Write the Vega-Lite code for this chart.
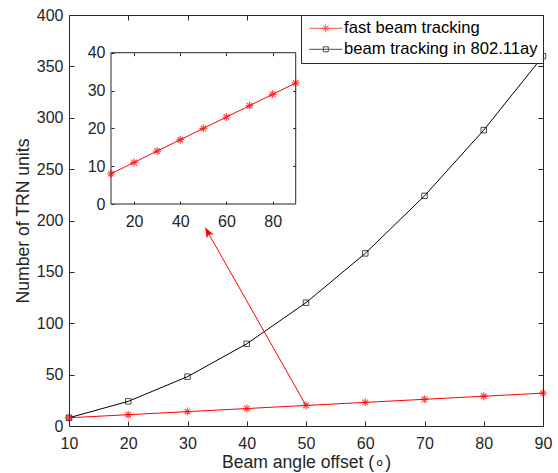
{
  "$schema": "https://vega.github.io/schema/vega-lite/v6.json",
  "width": 474,
  "height": 411,
  "autosize": {"type": "none"},
  "padding": {"left": 69, "top": 15, "right": 15, "bottom": 47},
  "config": {
    "font": "Liberation Sans",
    "view": {"stroke": null},
    "axis": {"labelColor": "#262626", "titleColor": "#262626", "tickColor": "#262626", "domainColor": "#262626", "labelFontSize": 16, "titleFontSize": 17.6, "titleFontWeight": "normal", "grid": false, "labelFlush": false, "labelOverlap": false},
    "legend": {"title": null, "orient": "top-right", "offset": 0, "padding": 5, "rowPadding": 4,
               "strokeColor": "#262626", "fillColor": "#ffffff", "cornerRadius": 0,
               "labelFontSize": 16.6, "labelColor": "#000000", "labelOffset": 10, "labelLimit": 400,
               "symbolSize": 100, "symbolOffset": 11.5, "symbolStrokeWidth": 1, "symbolFillColor": "transparent"}
  },
  "datasets": {
    "fast": [
      {"angle": 10, "trn": 8, "series": "fast beam tracking"},
      {"angle": 20, "trn": 11, "series": "fast beam tracking"},
      {"angle": 30, "trn": 14, "series": "fast beam tracking"},
      {"angle": 40, "trn": 17, "series": "fast beam tracking"},
      {"angle": 50, "trn": 20, "series": "fast beam tracking"},
      {"angle": 60, "trn": 23, "series": "fast beam tracking"},
      {"angle": 70, "trn": 26, "series": "fast beam tracking"},
      {"angle": 80, "trn": 29, "series": "fast beam tracking"},
      {"angle": 90, "trn": 32, "series": "fast beam tracking"}
    ],
    "ay": [
      {"angle": 10, "trn": 8, "series": "beam tracking in 802.11ay"},
      {"angle": 20, "trn": 24, "series": "beam tracking in 802.11ay"},
      {"angle": 30, "trn": 48, "series": "beam tracking in 802.11ay"},
      {"angle": 40, "trn": 80, "series": "beam tracking in 802.11ay"},
      {"angle": 50, "trn": 120, "series": "beam tracking in 802.11ay"},
      {"angle": 60, "trn": 168, "series": "beam tracking in 802.11ay"},
      {"angle": 70, "trn": 224, "series": "beam tracking in 802.11ay"},
      {"angle": 80, "trn": 288, "series": "beam tracking in 802.11ay"},
      {"angle": 90, "trn": 360, "series": "beam tracking in 802.11ay"}
    ],
    "legend": [
      {"angle": 10, "trn": 8, "series": "fast beam tracking"},
      {"angle": 10, "trn": 8, "series": "beam tracking in 802.11ay"}
    ],
    "arrow": [{"x": 50, "y": 20, "x2": 33, "y2": 193}],
    "frame": [{"x": 10, "x2": 90, "y": 0, "y2": 40}]
  },
  "resolve": {"scale": {"x": "independent", "y": "independent"}, "axis": {"x": "independent", "y": "independent"}},
  "layer": [
    {
      "data": {"name": "ay"},
      "mark": {"type": "line", "color": "#000000", "strokeWidth": 1},
      "encoding": {
        "x": {"field": "angle", "type": "quantitative", "scale": {"domain": [10, 90], "nice": false, "zero": false},
              "axis": {"orient": "bottom", "values": [10, 20, 30, 40, 50, 60, 70, 80, 90], "tickSize": -5, "labelPadding": 14, "title": "Beam angle offset (∘)", "titlePadding": 2}},
        "y": {"field": "trn", "type": "quantitative", "scale": {"domain": [0, 400], "nice": false, "zero": false},
              "axis": {"orient": "left", "values": [0, 50, 100, 150, 200, 250, 300, 350, 400], "tickSize": -5, "labelPadding": 11, "title": "Number of TRN units", "titlePadding": 4}}
      }
    },
    {
      "data": {"name": "ay"},
      "mark": {"type": "point", "shape": "square", "filled": false, "size": 30, "strokeWidth": 1, "color": "#000000"},
      "encoding": {
        "x": {"field": "angle", "type": "quantitative", "scale": {"domain": [10, 90], "nice": false, "zero": false},
              "axis": {"orient": "top", "values": [10, 20, 30, 40, 50, 60, 70, 80, 90], "tickSize": -5, "labels": false, "title": null}},
        "y": {"field": "trn", "type": "quantitative", "scale": {"domain": [0, 400], "nice": false, "zero": false},
              "axis": {"orient": "right", "values": [0, 50, 100, 150, 200, 250, 300, 350, 400], "tickSize": -5, "labels": false, "title": null}}
      }
    },
    {
      "data": {"name": "fast"},
      "mark": {"type": "line", "color": "#ff0000", "strokeWidth": 1},
      "encoding": {
        "x": {"field": "angle", "type": "quantitative", "scale": {"domain": [10, 90], "nice": false, "zero": false}, "axis": null},
        "y": {"field": "trn", "type": "quantitative", "scale": {"domain": [0, 400], "nice": false, "zero": false}, "axis": null}
      }
    },
    {
      "data": {"name": "fast"},
      "mark": {"type": "point", "shape": "M0,-1L0,1M-1,0L1,0M-0.7,-0.7L0.7,0.7M-0.7,0.7L0.7,-0.7", "filled": false, "size": 64, "strokeWidth": 1.2, "color": "#ff0000"},
      "encoding": {
        "x": {"field": "angle", "type": "quantitative", "scale": {"domain": [10, 90], "nice": false, "zero": false}, "axis": null},
        "y": {"field": "trn", "type": "quantitative", "scale": {"domain": [0, 400], "nice": false, "zero": false}, "axis": null}
      }
    },
    {
      "data": {"name": "arrow"},
      "mark": {"type": "rule", "color": "#ff0000", "strokeWidth": 1},
      "encoding": {
        "x": {"field": "x", "type": "quantitative", "scale": {"domain": [10, 90], "nice": false, "zero": false}, "axis": null},
        "y": {"field": "y", "type": "quantitative", "scale": {"domain": [0, 400], "nice": false, "zero": false}, "axis": null},
        "x2": {"field": "x2"},
        "y2": {"field": "y2"}
      }
    },
    {
      "data": {"name": "arrow"},
      "mark": {"type": "point", "shape": "M0,0L0.4,1L0,0.75L-0.4,1Z", "filled": true, "color": "#ff0000", "size": 400, "angle": -29.6, "opacity": 1},
      "encoding": {
        "x": {"field": "x2", "type": "quantitative", "scale": {"domain": [10, 90], "nice": false, "zero": false}, "axis": null},
        "y": {"field": "y2", "type": "quantitative", "scale": {"domain": [0, 400], "nice": false, "zero": false}, "axis": null}
      }
    },
    {
      "data": {"name": "legend"},
      "mark": {"type": "point", "filled": false, "strokeWidth": 1},
      "encoding": {
        "x": {"field": "angle", "type": "quantitative", "scale": {"domain": [10, 90], "nice": false, "zero": false}, "axis": null},
        "y": {"field": "trn", "type": "quantitative", "scale": {"domain": [0, 400], "nice": false, "zero": false}, "axis": null},
        "size": {"value": 0},
        "color": {"field": "series", "type": "nominal",
                  "scale": {"domain": ["fast beam tracking", "beam tracking in 802.11ay"], "range": ["#ff0000", "#000000"]}},
        "shape": {"field": "series", "type": "nominal",
                  "scale": {"domain": ["fast beam tracking", "beam tracking in 802.11ay"],
                            "range": ["M-3.3,0L3.3,0M0,-0.8L0,0.8M-0.8,0L0.8,0M-0.57,-0.57L0.57,0.57M-0.57,0.57L0.57,-0.57", "M-3.3,0L3.3,0M-0.5,-0.5L0.5,-0.5L0.5,0.5L-0.5,0.5Z"]}}
      }
    },
    {
      "data": {"name": "frame"},
      "mark": {"type": "rect", "fill": "#ffffff", "stroke": "#262626", "strokeWidth": 1},
      "encoding": {
        "x": {"field": "x", "type": "quantitative", "scale": {"domain": [-8.19, 197.1], "nice": false, "zero": false},
              "axis": {"orient": "bottom", "offset": -222, "values": [20, 40, 60, 80], "domain": false, "tickSize": -3, "labelPadding": 12.5, "title": null, "zindex": 1}},
        "x2": {"field": "x2"},
        "y": {"field": "y", "type": "quantitative", "scale": {"domain": [-58.69, 49.97], "nice": false, "zero": false},
              "axis": {"orient": "left", "offset": -42, "values": [0, 10, 20, 30, 40], "domain": false, "tickSize": -3, "labelPadding": 9, "title": null, "zindex": 1}},
        "y2": {"field": "y2"}
      }
    },
    {
      "data": {"name": "fast"},
      "mark": {"type": "line", "color": "#ff0000", "strokeWidth": 1},
      "encoding": {
        "x": {"field": "angle", "type": "quantitative", "scale": {"domain": [-8.19, 197.1], "nice": false, "zero": false},
              "axis": {"orient": "top", "offset": -37.7, "values": [20, 40, 60, 80], "domain": false, "tickSize": -3, "labels": false, "title": null, "zindex": 1}},
        "y": {"field": "trn", "type": "quantitative", "scale": {"domain": [-58.69, 49.97], "nice": false, "zero": false},
              "axis": {"orient": "right", "offset": -247.3, "values": [10, 20, 30], "domain": false, "tickSize": -3, "labels": false, "title": null, "zindex": 1}}
      }
    },
    {
      "data": {"name": "fast"},
      "mark": {"type": "point", "shape": "M0,-1L0,1M-1,0L1,0M-0.7,-0.7L0.7,0.7M-0.7,0.7L0.7,-0.7", "filled": false, "size": 64, "strokeWidth": 1.2, "color": "#ff0000"},
      "encoding": {
        "x": {"field": "angle", "type": "quantitative", "scale": {"domain": [-8.19, 197.1], "nice": false, "zero": false}, "axis": null},
        "y": {"field": "trn", "type": "quantitative", "scale": {"domain": [-58.69, 49.97], "nice": false, "zero": false}, "axis": null}
      }
    }
  ]
}
